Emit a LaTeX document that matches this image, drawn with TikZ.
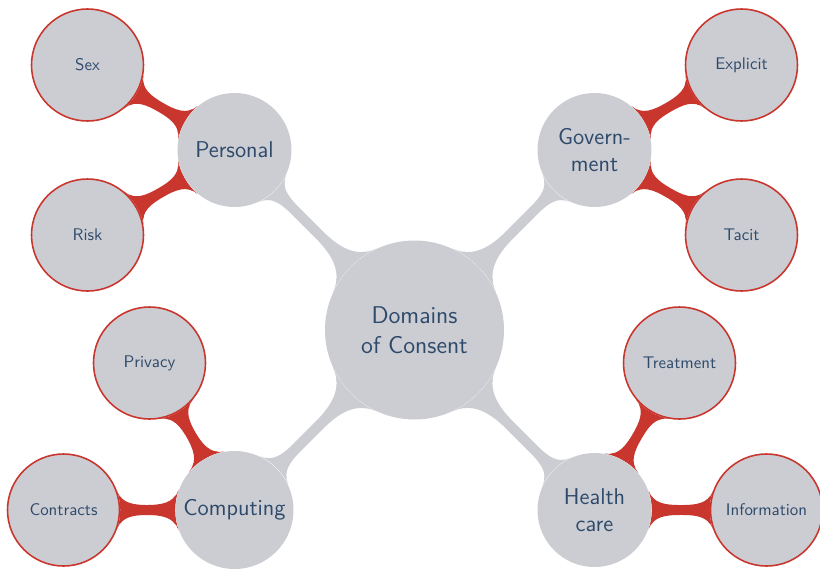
\documentclass[tikz,border=0pt]{standalone}
\usetikzlibrary{mindmap,backgrounds}

\definecolor{conceptgray}{RGB}{204,205,211}
\definecolor{conceptred}{RGB}{200,54,45}
\definecolor{textblue}{RGB}{46,74,107}

\begin{document}
\begin{tikzpicture}[auto,
        root node/.style={circle, fill=conceptgray, text=textblue, minimum size=3.58cm, align=center, font=\sffamily\fontsize{13.8}{17}\selectfont},
        main node/.style={circle, fill=conceptgray, text=textblue, minimum size=2.28cm, align=center, font=\sffamily\fontsize{13}{15}\selectfont},
        leaf node/.style={circle, fill=conceptgray, draw=conceptred, line width=0.9pt, text=textblue, minimum size=2.24cm, align=center, font=\sffamily\fontsize{9.6}{12}\selectfont},
        gray bar/.style={line width=5pt, circle connection bar switch color=from (conceptgray) to (conceptgray)},
        red bar/.style={line width=7pt, circle connection bar switch color=from (conceptred) to (conceptred)}]

    \useasboundingbox (-8.29,-4.76) rectangle (8.11,6.60);

    % Concepts
    \node[root node] (consent) at (0.00,0.00) {Domains\\of Consent};
    \node[main node] (personal) at (-3.60,3.60) {Personal};
    \node[main node] (government) at (3.60,3.60) {Govern-\\ment};
    \node[main node] (computing) at (-3.60,-3.60) {Computing};
    \node[main node] (health) at (3.60,-3.60) {Health\\care};

    \node[leaf node] (sex) at (-6.54,5.30) {Sex};
    \node[leaf node] (risk) at (-6.54,1.90) {Risk};
    \node[leaf node] (explicit) at (6.54,5.30) {Explicit};
    \node[leaf node] (tacit) at (6.54,1.90) {Tacit};
    \node[leaf node] (privacy) at (-5.30,-0.66) {Privacy};
    \node[leaf node] (contracts) at (-7.02,-3.60) {Contracts};
    \node[leaf node] (treatment) at (5.30,-0.66) {Treatment};
    \node[leaf node] (information) at (7.04,-3.60) {Information};

    % Connections
    \begin{scope}[on background layer]
    \path (consent) to[gray bar] (personal);
    \path (consent) to[gray bar] (government);
    \path (consent) to[gray bar] (computing);
    \path (consent) to[gray bar] (health);

    \path (personal) to[red bar] (sex);
    \path (personal) to[red bar] (risk);
    \path (government) to[red bar] (explicit);
    \path (government) to[red bar] (tacit);
    \path (computing) to[red bar] (privacy);
    \path (computing) to[red bar] (contracts);
    \path (health) to[red bar] (treatment);
    \path (health) to[red bar] (information);
    \end{scope}
\end{tikzpicture}
\end{document}
